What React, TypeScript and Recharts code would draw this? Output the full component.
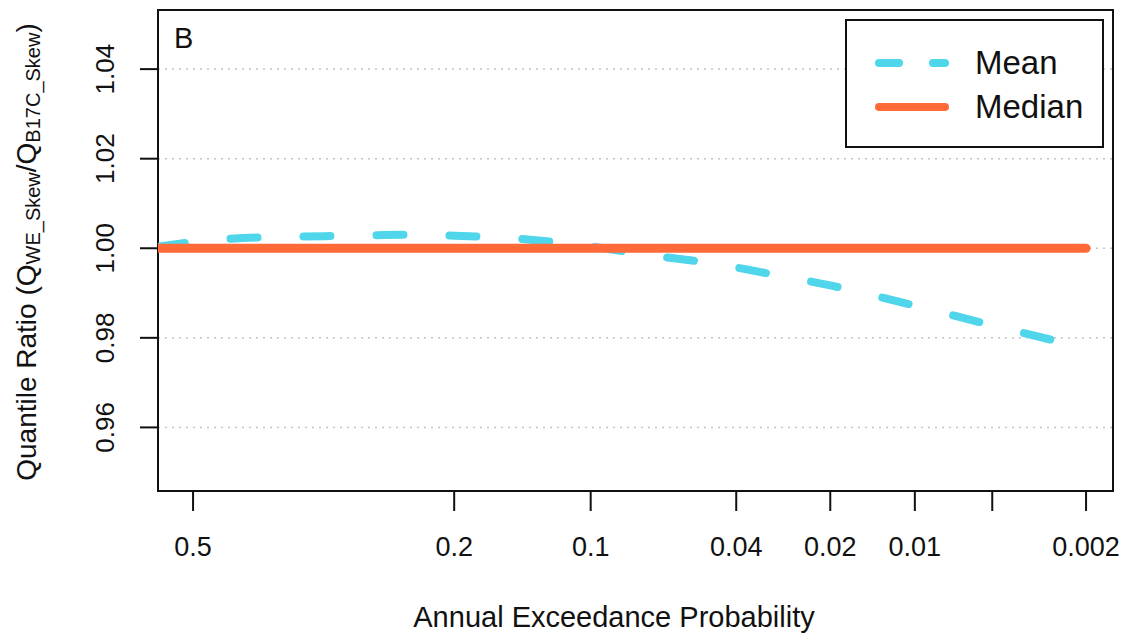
import React from 'react'
import {
  LineChart,
  Line,
  XAxis,
  YAxis,
  CartesianGrid,
  Legend,
  ReferenceArea,
} from 'recharts'

// annual exceedance probabilities where the curves were read
const aep = [0.545, 0.5, 0.4, 0.3, 0.25, 0.2, 0.15, 0.1, 0.07, 0.05, 0.04, 0.03, 0.02, 0.01, 0.005, 0.002]
const meanRatio = [1.0003, 1.0014, 1.0025, 1.0028, 1.003, 1.0028, 1.0022, 1.0004, 0.9984, 0.9969, 0.9957, 0.994, 0.9917, 0.9872, 0.9828, 0.9777]
const medianRatio = [1, 1, 1, 1, 1, 1, 1, 1, 1, 1, 1, 1, 1, 1, 1, 1]

const xTickProbs = [0.5, 0.2, 0.1, 0.04, 0.02, 0.01, 0.005, 0.002]
const xTickLabels = ['0.5', '0.2', '0.1', '0.04', '0.02', '0.01', '', '0.002']
const yTicks = [0.96, 0.98, 1.0, 1.02, 1.04]

const FONT = '"Liberation Sans", Arial, Helvetica, sans-serif'
const CYAN = '#4fd6ea'
const ORANGE = '#ff6a38'

// inverse standard normal (Acklam) -> normal probability paper position
function qnorm(q: number) {
  const a = [-39.69683028665376, 220.9460984245205, -275.9285104469687, 138.357751867269, -30.66479806614716, 2.506628277459239]
  const b = [-54.47609879822406, 161.5858368580409, -155.6989798598866, 66.80131188771972, -13.28068155288572]
  const c = [-0.007784894002430293, -0.3223964580411365, -2.400758277161838, -2.549732539343734, 4.374664141464968, 2.938163982698783]
  const d = [0.007784695709041462, 0.3224671290700398, 2.445134137142996, 3.754408661907416]
  const plow = 0.02425
  if (q < plow) {
    const r = Math.sqrt(-2 * Math.log(q))
    return (((((c[0] * r + c[1]) * r + c[2]) * r + c[3]) * r + c[4]) * r + c[5]) /
      ((((d[0] * r + d[1]) * r + d[2]) * r + d[3]) * r + 1)
  }
  if (q <= 1 - plow) {
    const r = q - 0.5
    const s = r * r
    return ((((((a[0] * s + a[1]) * s + a[2]) * s + a[3]) * s + a[4]) * s + a[5]) * r) /
      (((((b[0] * s + b[1]) * s + b[2]) * s + b[3]) * s + b[4]) * s + 1)
  }
  const r = Math.sqrt(-2 * Math.log(1 - q))
  return -(((((c[0] * r + c[1]) * r + c[2]) * r + c[3]) * r + c[4]) * r + c[5]) /
    ((((d[0] * r + d[1]) * r + d[2]) * r + d[3]) * r + 1)
}

const toZ = (p: number) => qnorm(1 - p)

const data = aep.map((p, i) => ({ z: toZ(p), mean: meanRatio[i], median: medianRatio[i] }))
const xTicks = xTickProbs.map(toZ)

const X_DOMAIN: [number, number] = [-0.113, 2.965]
const Y_DOMAIN: [number, number] = [0.9458, 1.0532]

function XTick({ x, y, index }: any) {
  return (
    <text x={x} y={y + 36} textAnchor="middle" dominantBaseline="central" fontSize={27} fontFamily={FONT} fill="#111">
      {xTickLabels[index]}
    </text>
  )
}

function YTick({ x, y, payload }: any) {
  const tx = x - 35
  return (
    <text
      x={tx}
      y={y}
      transform={`rotate(-90, ${tx}, ${y})`}
      textAnchor="middle"
      dominantBaseline="central"
      fontSize={26}
      fontFamily={FONT}
      fill="#111"
    >
      {payload.value.toFixed(2)}
    </text>
  )
}

function YTitle() {
  const cx = 26
  const cy = 252
  return (
    <text
      x={cx}
      y={cy}
      transform={`rotate(-90, ${cx}, ${cy})`}
      textAnchor="middle"
      dominantBaseline="central"
      fontSize={28}
      fontFamily={FONT}
      fill="#111"
    >
      Quantile Ratio (Q
      <tspan fontSize={20} dy={7}>WE_Skew</tspan>
      <tspan dy={-7}>/Q</tspan>
      <tspan fontSize={20} dy={7}>B17C_Skew</tspan>
      <tspan dy={-7}>)</tspan>
    </text>
  )
}

function XTitle() {
  return (
    <text x={614} y={617} textAnchor="middle" dominantBaseline="central" fontSize={29} fontFamily={FONT} fill="#111">
      Annual Exceedance Probability
    </text>
  )
}

function LegendBox() {
  const rows = [
    { name: 'Mean', color: CYAN, dash: '20 34' },
    { name: 'Median', color: ORANGE, dash: undefined },
  ]
  return (
    <div
      style={{
        width: 259,
        height: 129,
        border: '2px solid #111',
        boxSizing: 'border-box',
        background: '#fff',
        position: 'relative',
      }}
    >
      {rows.map((r, i) => (
        <div key={r.name} style={{ position: 'absolute', left: 0, top: 22 + i * 44, height: 40, width: '100%' }}>
          <svg width={100} height={40} style={{ position: 'absolute', left: 28, top: 0 }}>
            <line
              x1={4}
              y1={20}
              x2={70}
              y2={20}
              stroke={r.color}
              strokeWidth={8}
              strokeLinecap="round"
              strokeDasharray={r.dash}
            />
          </svg>
          <span
            style={{
              position: 'absolute',
              left: 128,
              top: 0,
              lineHeight: '40px',
              fontSize: 33,
              fontFamily: FONT,
              color: '#111',
            }}
          >
            {r.name}
          </span>
        </div>
      ))}
    </div>
  )
}

export default function App() {
  return (
    <div style={{ position: 'absolute', left: 0, top: 0, width: 1130, height: 635, background: '#fff' }}>
      <LineChart width={1130} height={635} data={data} margin={{ top: 10, right: 17, left: 0, bottom: 0 }}>
        <CartesianGrid horizontal vertical={false} stroke="#c4c4c4" strokeDasharray="2 5" strokeWidth={1.5} />
        <XAxis
          dataKey="z"
          type="number"
          domain={X_DOMAIN}
          allowDataOverflow
          ticks={xTicks}
          interval={0}
          height={144}
          tickSize={20}
          tickMargin={0}
          tickLine={{ stroke: '#111', strokeWidth: 2 }}
          axisLine={false}
          tick={<XTick />}
          label={{ content: () => <XTitle /> }}
        />
        <YAxis
          type="number"
          domain={Y_DOMAIN}
          allowDataOverflow
          ticks={yTicks}
          interval={0}
          width={158}
          tickSize={18}
          tickMargin={0}
          tickLine={{ stroke: '#111', strokeWidth: 2 }}
          axisLine={false}
          tick={<YTick />}
          label={{ content: () => <YTitle /> }}
        />
        <ReferenceArea
          x1={X_DOMAIN[0]}
          x2={X_DOMAIN[1]}
          y1={Y_DOMAIN[0]}
          y2={Y_DOMAIN[1]}
          fill="none"
          stroke="#111"
          strokeWidth={2}
          ifOverflow="extendDomain"
        />
        <Line
          type="monotone"
          dataKey="mean"
          name="Mean"
          stroke={CYAN}
          strokeWidth={8}
          strokeDasharray="27 46"
          strokeLinecap="round"
          dot={false}
          activeDot={false}
          isAnimationActive={false}
        />
        <Line
          type="linear"
          dataKey="median"
          name="Median"
          stroke={ORANGE}
          strokeWidth={9}
          strokeLinecap="round"
          dot={false}
          activeDot={false}
          isAnimationActive={false}
        />
        <Legend
          layout="horizontal"
          verticalAlign="middle"
          align="center"
          content={() => <LegendBox />}
          wrapperStyle={{ left: 845, top: 19, width: 259, height: 129 }}
        />
      </LineChart>
      <div
        style={{
          position: 'absolute',
          left: 174,
          top: 22,
          fontSize: 29,
          fontFamily: FONT,
          color: '#111',
          pointerEvents: 'none',
        }}
      >
        B
      </div>
    </div>
  )
}
